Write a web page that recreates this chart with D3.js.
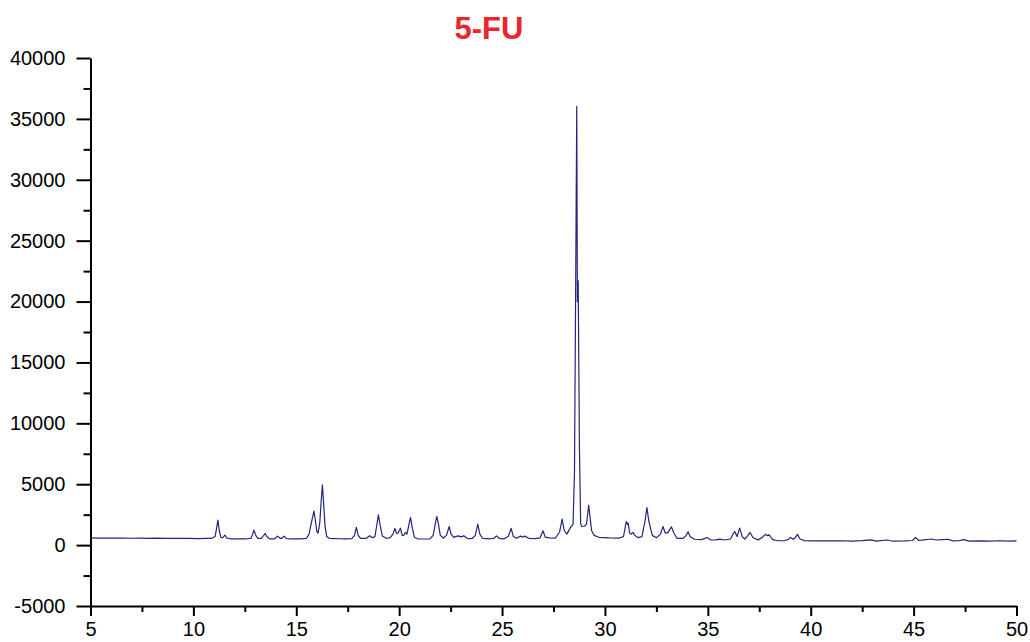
<!DOCTYPE html>
<html>
<head>
<meta charset="utf-8">
<script src="https://cdn.jsdelivr.net/npm/d3@7"></script>
<style>
  body { margin: 0; background: #fff; }
  text { font-family: "Liberation Sans", Arial, sans-serif; }
</style>
</head>
<body>
<svg id="xrd" width="1030" height="642"></svg>
<script>
// chart title and axis ticks
var title = "5-FU";
var xTicks = [5, 10, 15, 20, 25, 30, 35, 40, 45, 50];
var xMinor = [7.5, 12.5, 17.5, 22.5, 27.5, 32.5, 37.5, 42.5, 47.5];
var yTicks = [-5000, 0, 5000, 10000, 15000, 20000, 25000, 30000, 35000, 40000];
var yMinor = [-2500, 2500, 7500, 12500, 17500, 22500, 27500, 32500, 37500];

// diffraction scan: [2theta, intensity]
var scan = [
  [5.00, 590], [5.4, 575], [5.8, 585], [6.2, 570], [6.6, 580], [7.0, 565], [7.4, 575],
  [7.8, 560], [8.2, 570], [8.6, 555], [9.0, 565], [9.4, 545], [9.8, 555], [10.2, 540],
  [10.6, 555], [10.9, 560], [11.05, 700], [11.12, 1300], [11.19, 2050], [11.26, 1200],
  [11.33, 650], [11.42, 600], [11.53, 820], [11.62, 580], [11.8, 520], [12.2, 510],
  [12.6, 520], [12.8, 560], [12.88, 900], [12.94, 1230], [13.02, 850], [13.12, 560],
  [13.3, 560], [13.42, 800], [13.49, 960], [13.57, 700], [13.7, 520], [13.95, 520],
  [14.09, 740], [14.22, 560], [14.3, 560], [14.41, 740], [14.52, 540], [14.8, 510],
  [15.2, 520], [15.5, 560], [15.62, 900], [15.70, 1550], [15.78, 2200], [15.86, 2800],
  [15.93, 2000], [16.0, 1100], [16.06, 980], [16.14, 1800], [16.21, 3600], [16.27, 4950],
  [16.33, 3400], [16.40, 1500], [16.48, 700], [16.6, 560], [17.0, 530], [17.4, 520],
  [17.7, 540], [17.83, 800], [17.92, 1450], [18.01, 800], [18.12, 560], [18.4, 560],
  [18.57, 760], [18.7, 600], [18.82, 700], [18.9, 1500], [18.99, 2480], [19.08, 1600],
  [19.18, 750], [19.35, 580], [19.55, 600], [19.7, 900], [19.79, 1370], [19.88, 950],
  [19.95, 1000], [20.06, 1390], [20.15, 780], [20.22, 800], [20.31, 1040], [20.38, 900],
  [20.45, 1500], [20.55, 2270], [20.64, 1400], [20.74, 650], [20.9, 520], [21.2, 500],
  [21.5, 520], [21.65, 800], [21.75, 1700], [21.83, 2350], [21.91, 1700], [22.0, 800],
  [22.15, 580], [22.3, 800], [22.43, 1530], [22.52, 900], [22.65, 640], [22.86, 760],
  [23.0, 680], [23.14, 760], [23.3, 560], [23.55, 540], [23.7, 800], [23.82, 1720],
  [23.92, 900], [24.05, 560], [24.4, 520], [24.6, 560], [24.73, 760], [24.86, 560],
  [25.1, 520], [25.3, 700], [25.44, 1370], [25.55, 700], [25.7, 560], [25.9, 740],
  [26.0, 650], [26.1, 740], [26.3, 560], [26.6, 530], [26.85, 600], [26.99, 1175],
  [27.1, 650], [27.3, 600], [27.6, 580], [27.8, 1100], [27.92, 2130], [28.02, 1200],
  [28.15, 900], [28.34, 1500], [28.45, 1700], [28.52, 6000], [28.58, 22000], [28.63, 36020],
  [28.66, 20000], [28.70, 21700], [28.76, 8000], [28.82, 1800], [28.86, 1530], [29.0, 1550],
  [29.1, 1700], [29.16, 2500], [29.21, 3280], [29.27, 2400], [29.35, 1200], [29.48, 800],
  [29.7, 640], [30.2, 600], [30.7, 580], [30.9, 700], [31.0, 1600], [31.04, 1940],
  [31.09, 1700], [31.13, 1800], [31.2, 1000], [31.28, 900], [31.36, 1040], [31.45, 800],
  [31.6, 620], [31.8, 700], [31.95, 2000], [32.04, 3090], [32.13, 2000], [32.3, 800],
  [32.5, 600], [32.7, 900], [32.82, 1530], [32.93, 1000], [33.05, 1000], [33.23, 1500],
  [33.35, 1000], [33.5, 560], [33.8, 560], [33.95, 800], [34.04, 1090], [34.14, 700],
  [34.35, 480], [34.7, 450], [34.96, 630], [35.15, 420], [35.4, 430], [35.58, 490],
  [35.8, 420], [36.1, 500], [36.22, 900], [36.31, 1120], [36.42, 700], [36.55, 1390],
  [36.67, 700], [36.8, 500], [36.95, 800], [37.05, 1040], [37.2, 600], [37.45, 430],
  [37.65, 650], [37.80, 880], [37.9, 780], [37.98, 850], [38.15, 450], [38.4, 360],
  [38.7, 360], [38.9, 450], [39.01, 630], [39.15, 480], [39.25, 600], [39.35, 880],
  [39.48, 500], [39.7, 370], [40.0, 350], [40.5, 360], [41.0, 340], [41.5, 360],
  [42.0, 330], [42.5, 370], [42.9, 430], [43.2, 330], [43.7, 420], [44.0, 320],
  [44.6, 340], [44.95, 380], [45.09, 630], [45.25, 380], [45.5, 430], [45.86, 500],
  [46.1, 420], [46.4, 450], [46.67, 480], [46.9, 350], [47.2, 360], [47.43, 450],
  [47.7, 330], [48.2, 350], [48.7, 330], [49.2, 360], [49.6, 330], [50.0, 350]
];

var svg = d3.select("#xrd");

var x = d3.scaleLinear().domain([5, 50]).range([90.5, 1016.5]);
var y = d3.scaleLinear().domain([-5000, 40000]).range([606, 58]);

// plain hyphen for negatives, like the original
var fmt = function(d) { return String(d); };

// title
svg.append("text")
  .attr("x", 489)
  .attr("y", 39)
  .attr("text-anchor", "middle")
  .attr("font-size", "31px")
  .attr("font-weight", "bold")
  .attr("fill", "#e8262b")
  .text(title);

// x axis, major then minor ticks
// labels sit at the very bottom edge; keep them just inside the window
svg.append("g")
  .attr("transform", "translate(0,606)")
  .call(d3.axisBottom(x).tickValues(xTicks).tickFormat(fmt)
    .tickSize(10).tickPadding(6).tickSizeOuter(0));

svg.append("g")
  .attr("transform", "translate(0,606)")
  .call(d3.axisBottom(x).tickValues(xMinor).tickFormat("").tickSize(6).tickSizeOuter(0))
  .select(".domain").remove();

// y axis
svg.append("g")
  .attr("transform", "translate(90.5,0)")
  .call(d3.axisLeft(y).tickValues(yTicks).tickFormat(fmt)
    .tickSize(14).tickPadding(11).tickSizeOuter(0));

svg.append("g")
  .attr("transform", "translate(90.5,0)")
  .call(d3.axisLeft(y).tickValues(yMinor).tickFormat("").tickSize(7).tickSizeOuter(0))
  .select(".domain").remove();

svg.selectAll(".domain").attr("stroke", "#000").attr("stroke-width", 2);
svg.selectAll(".tick line").attr("stroke", "#000").attr("stroke-width", 2);
svg.selectAll(".tick text")
  .attr("font-size", "20px")
  .attr("font-family", "'Liberation Sans', Arial, sans-serif")
  .attr("fill", "#000");

// the pattern
var line = d3.line()
  .x(function(d) { return x(d[0]); })
  .y(function(d) { return y(d[1]); });

svg.append("path")
  .datum(scan)
  .attr("fill", "none")
  .attr("stroke", "#22267c")
  .attr("stroke-width", 1.2)
  .attr("stroke-linejoin", "round")
  .attr("d", line);
</script>
</body>
</html>
